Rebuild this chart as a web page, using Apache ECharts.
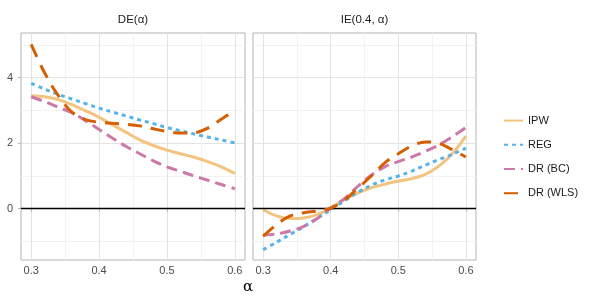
<!DOCTYPE html>
<html>
<head>
<meta charset="utf-8">
<script src="https://cdn.jsdelivr.net/npm/echarts@6/dist/echarts.min.js"></script>
<style>html,body{margin:0;padding:0;background:#fff}#c{width:600px;height:300px}</style>
</head>
<body>
<div id="c"></div>
<script>
const alphaVals = [0.30,0.32,0.34,0.36,0.38,0.40,0.42,0.44,0.46,0.48,0.50,0.52,0.54,0.56,0.58,0.60];
const panelTitles = ['DE(\u03b1)', 'IE(0.4, \u03b1)'];
const seriesNames = ['IPW', 'REG', 'DR (BC)', 'DR (WLS)'];
const deIPW = [3.45,3.42,3.33,3.18,2.99,2.79,2.56,2.33,2.10,1.93,1.79,1.68,1.57,1.44,1.28,1.08];
const deREG = [3.83,3.65,3.49,3.35,3.21,3.07,2.95,2.83,2.71,2.60,2.48,2.38,2.28,2.19,2.10,2.01];
const deBC  = [3.42,3.27,3.10,2.93,2.69,2.42,2.15,1.90,1.68,1.46,1.28,1.14,1.00,0.87,0.74,0.61];
const deWLS = [5.02,4.14,3.45,2.95,2.72,2.64,2.61,2.58,2.53,2.44,2.36,2.31,2.32,2.46,2.73,3.00];
const ieIPW = [-0.03,-0.22,-0.30,-0.28,-0.18,0.02,0.28,0.48,0.64,0.75,0.84,0.92,1.05,1.30,1.68,2.22];
const ieREG = [-1.25,-1.02,-0.78,-0.55,-0.29,-0.03,0.24,0.50,0.72,0.88,1.00,1.15,1.33,1.50,1.66,1.85];
const ieBC  = [-0.80,-0.77,-0.68,-0.54,-0.30,0.02,0.30,0.68,1.02,1.28,1.44,1.58,1.75,1.95,2.20,2.48];
const ieWLS = [-0.84,-0.48,-0.22,-0.12,-0.07,0.02,0.26,0.62,1.00,1.40,1.68,1.92,2.04,2.00,1.80,1.58];
const xMajorTicks = [0.3, 0.4, 0.5, 0.6];
const xMinorTicks = [0.35, 0.45, 0.55];
const yMajorTicks = [0, 2, 4];
const yMinorTicks = [-1, 1, 3, 5];
const refLine = [0];

const colors = ['#F2C47F', '#56B4E9', '#CC79A7', '#D55E00'];
const dashes = ['solid', [4, 4], [11, 6], [14, 9]];
const panelData = [[deIPW, deREG, deBC, deWLS], [ieIPW, ieREG, ieBC, ieWLS]];
const xMin = 0.285, xMax = 0.615, yMin = -1.565, yMax = 5.365;
const gridPos = [{left: 21, width: 224}, {left: 253, width: 223}];
const font = 'Liberation Sans, Arial, sans-serif';

const grids = [], xAxes = [], yAxes = [], series = [], graphics = [];
gridPos.forEach((g, p) => {
  grids.push({left: g.left, width: g.width, top: 33, height: 227, show: true,
    borderColor: '#b3b3b3', borderWidth: 1, backgroundColor: '#fff'});
  // minor axes (grid lines only)
  xAxes.push({type: 'value', gridIndex: p, position: 'bottom', min: xMin, max: xMax,
    axisLine: {show: false}, axisLabel: {show: false},
    axisTick: {show: false, customValues: xMinorTicks},
    splitLine: {show: true, lineStyle: {color: '#f2f2f2', width: 1}}});
  yAxes.push({type: 'value', gridIndex: p, position: 'left', min: yMin, max: yMax,
    axisLine: {show: false}, axisLabel: {show: false},
    axisTick: {show: false, customValues: yMinorTicks},
    splitLine: {show: true, lineStyle: {color: '#f2f2f2', width: 1}}});
  // major axes
  xAxes.push({type: 'value', gridIndex: p, position: 'bottom', min: xMin, max: xMax,
    axisLine: {show: false},
    axisTick: {show: true, length: 3, lineStyle: {color: '#b3b3b3'}, customValues: xMajorTicks},
    axisLabel: {show: true, customValues: xMajorTicks, color: '#4d4d4d', fontSize: 11, fontFamily: font,
      margin: 5, formatter: v => v.toFixed(1)},
    splitLine: {show: true, lineStyle: {color: '#e3e3e3', width: 1}}});
  yAxes.push({type: 'value', gridIndex: p, position: 'left', min: yMin, max: yMax,
    axisLine: {show: false},
    axisTick: {show: p === 0, length: 3, lineStyle: {color: '#b3b3b3'}, customValues: yMajorTicks},
    axisLabel: {show: p === 0, customValues: yMajorTicks, color: '#4d4d4d', fontSize: 11, fontFamily: font, margin: 8},
    splitLine: {show: true, lineStyle: {color: '#e3e3e3', width: 1}}});
  const xi = p * 2 + 1, yi = p * 2 + 1;
  // reference zero line
  series.push({type: 'line', name: '_ref' + p, xAxisIndex: xi, yAxisIndex: yi, data: [],
    silent: true, z: 1,
    markLine: {silent: true, symbol: 'none', label: {show: false}, animation: false,
      lineStyle: {color: '#000', width: 1.3, type: 'solid'},
      data: refLine.map(v => ({yAxis: v}))}});
  panelData[p].forEach((vals, s) => {
    series.push({type: 'line', name: seriesNames[s], xAxisIndex: xi, yAxisIndex: yi,
      data: alphaVals.map((a, i) => [a, vals[i]]),
      smooth: 0.35, showSymbol: false, symbol: 'none', animation: false, z: 2 + s,
      itemStyle: {color: colors[s]},
      lineStyle: {color: colors[s], width: 3, type: dashes[s], cap: 'butt'}});
  });
  graphics.push({type: 'text', x: g.left + g.width / 2, y: 20,
    style: {text: panelTitles[p], fill: '#1a1a1a', font: '11.5px ' + font, align: 'center', verticalAlign: 'middle'}});
});
graphics.push({type: 'text', x: 248, y: 287,
  style: {text: '\u03b1', fill: '#000', font: '15px DejaVu Serif, serif', align: 'center', verticalAlign: 'middle'}});

const chart = echarts.init(document.getElementById('c'), null, {renderer: 'canvas'});
chart.setOption({
  animation: false,
  backgroundColor: '#fff',
  grid: grids, xAxis: xAxes, yAxis: yAxes, series: series,
  legend: {data: seriesNames, orient: 'vertical', left: 503, top: 115, padding: 0, itemWidth: 19, itemHeight: 14,
    itemGap: 13, itemStyle: {opacity: 0}, textStyle: {color: '#1a1a1a', fontSize: 11, fontFamily: font},
    selectedMode: false},
  graphic: graphics
});
</script>
</body>
</html>
